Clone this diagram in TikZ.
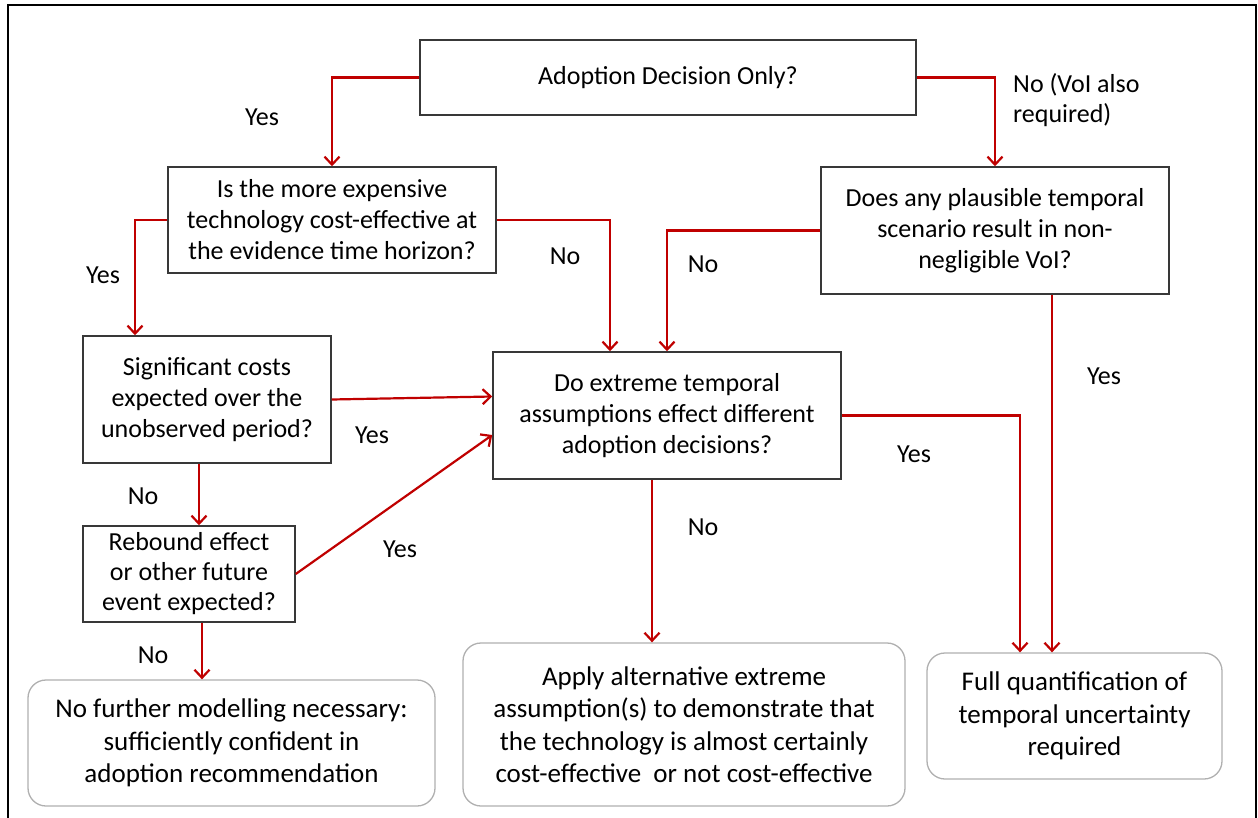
\documentclass[tikz,border=0pt]{standalone}
\usepackage{fontspec}
\setmainfont{Carlito}
\usetikzlibrary{arrows.meta,calc}
\definecolor{arrred}{HTML}{C00000}
\definecolor{boxgray}{HTML}{383838}
\definecolor{roundgray}{HTML}{B0B0B0}
\begin{document}
\begin{tikzpicture}[x=1pt,y=-1pt,
  qbox/.style={draw=boxgray,line width=1.5pt,rectangle,inner sep=0pt,align=center,
    font=\fontsize{26}{31}\selectfont},
  rbox/.style={draw=roundgray,line width=1.3pt,rectangle,rounded corners=18pt,inner sep=0pt,align=center,
    font=\fontsize{27}{32.5}\selectfont},
  arr/.style={draw=arrred,line width=2.2pt,-{Straight Barb[length=8pt,width=15pt,line width=2.2pt]}},
  lbl/.style={font=\fontsize{26}{30}\selectfont,inner sep=0pt}]
\useasboundingbox (0,0) rectangle (1258,818);
\fill[white] (0,0) rectangle (1258,818);
\draw[black,line width=2.2pt] (8,820) -- (8,5) -- (1256,5) -- (1256,820);

\node[qbox,minimum width=496,minimum height=75] (A) at (668,77.5) {Adoption Decision Only?};
\node[qbox,minimum width=328,minimum height=106] (B) at (332,220) {Is the more expensive\\technology cost-effective at\\the evidence time horizon?};
\node[qbox,minimum width=348,minimum height=127] (C) at (995,230.5) {Does any plausible temporal\\scenario result in non-\\negligible VoI?};
\node[qbox,minimum width=248,minimum height=127] (D) at (207,399.5) {Significant costs\\expected over the\\unobserved period?};
\node[qbox,minimum width=348,minimum height=127] (E) at (667,415.5) {Do extreme temporal\\assumptions effect different\\adoption decisions?};
\node[qbox,minimum width=212,minimum height=96,font=\fontsize{26}{30}\selectfont] (F) at (189,574) {Rebound effect\\or other future\\event expected?};
\node[rbox,minimum width=295,minimum height=126] (G) at (1074.5,716) {Full quantification of\\temporal uncertainty\\required};
\node[rbox,minimum width=442,minimum height=163] (H) at (684,724.5) {Apply alternative extreme\\assumption(s) to demonstrate that\\the technology is almost certainly\\cost-effective\ \ or not cost-effective};
\node[rbox,minimum width=407,minimum height=126] (I) at (231.5,743) {No further modelling necessary:\\sufficiently confident in\\adoption recommendation};

\draw[arr] (A.west) -| (B.north);
\draw[arr] (A.east) -| (C.north);
\draw[arr] (B.west) -| ([xshift=-72pt]D.north);
\draw[arr] (B.east) -| ([xshift=-57pt]E.north);
\draw[arr] (C.west) -| (E.north);
\draw[arr] (D.east) -- ([yshift=19pt]E.west);
\draw[arr] ([xshift=-8pt]D.south) -- ([xshift=-8pt]D.south |- F.north);
\draw[arr] (F.east) -- ([yshift=-19.5pt]E.west);
\draw[arr] ([xshift=57pt]C.south) -- ([xshift=57pt]C.south |- G.north);
\draw[arr] (E.east) -| ([xshift=-54.5pt]G.north);
\draw[arr] ([xshift=-15pt]E.south) -- ([xshift=-15pt]E.south |- H.north);
\draw[arr] ([xshift=13pt]F.south) -- ([xshift=13pt]F.south |- I.north);

\node[lbl] (l1) at (262,117) {Yes};
\node[lbl] (l2) at (103,275) {Yes};
\node[lbl] (l3) at (565,256) {No};
\node[lbl] (l4) at (703,264) {No};
\node[lbl] (l5) at (1104,376) {Yes};
\node[lbl] (l6) at (372,435) {Yes};
\node[lbl] (l7) at (143,496) {No};
\node[lbl] (l8) at (400,549) {Yes};
\node[lbl] (l9) at (914,454) {Yes};
\node[lbl] (l10) at (703,527) {No};
\node[lbl] (l11) at (153,655) {No};
\node[lbl,anchor=west,align=left] (l12) at (1013,100) {No (VoI also\\required)};
\end{tikzpicture}
\end{document}
